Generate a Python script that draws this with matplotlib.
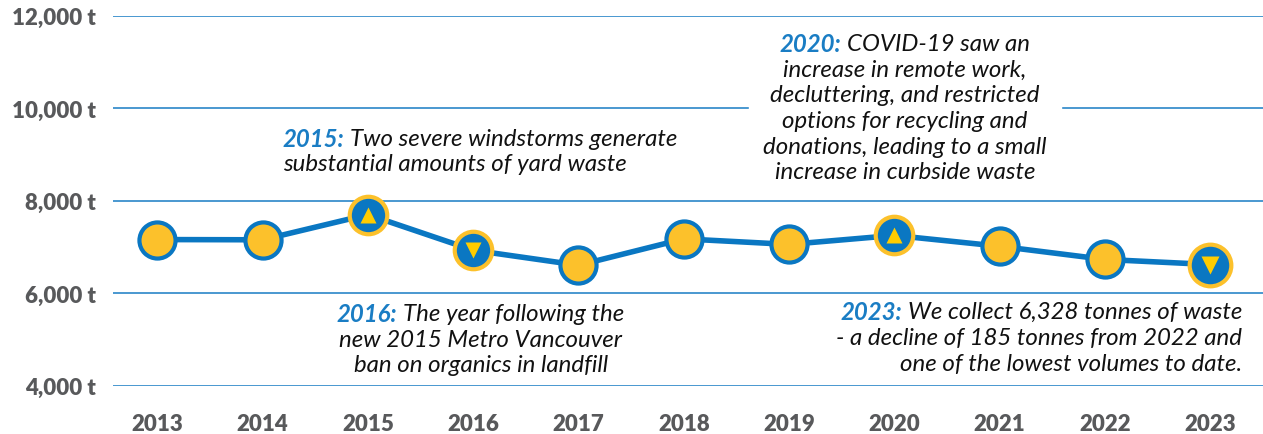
import matplotlib.pyplot as plt

# Data
years = [2013, 2014, 2015, 2016, 2017, 2018, 2019, 2020, 2021, 2022, 2023]
tonnes = [7160, 7155, 7700, 6930, 6605, 7175, 7055, 7250, 7015, 6730, 6620]
trend = ['', '', 'up', 'down', '', '', '', 'up', '', '', 'down']

y_ticks = [4000, 6000, 8000, 10000, 12000]
y_labels = ['4,000 t', '6,000 t', '8,000 t', '10,000 t', '12,000 t']

notes = [
    # (prefix, lines, anchor x, anchor y, align)
    ('2015:', ['Two severe windstorms generate', 'substantial amounts of yard waste'],
     2014.19, 9350, 'left'),
    ('2016:', ['The year following the', 'new 2015 Metro Vancouver', 'ban on organics in landfill'],
     2016.07, 5560, 'center'),
    ('2020:', ['COVID-19 saw an', 'increase in remote work,', 'decluttering, and restricted',
               'options for recycling and', 'donations, leading to a small',
               'increase in curbside waste'],
     2020.10, 11405, 'center'),
    ('2023:', ['We collect 6,328 tonnes of waste', '- a decline of 185 tonnes from 2022 and',
               'one of the lowest volumes to date.'],
     2023.30, 5600, 'right'),
]

blue = '#0a77c2'
yellow = '#fcc12b'
tri_yellow = '#ffcc00'
grey = '#58595b'

fig = plt.figure(figsize=(12.63, 4.35), dpi=100)
ax = fig.add_axes([0.0895, 0.111, 0.9105, 0.8506])
ax.set_xlim(2012.58, 2023.5)
ax.set_ylim(4000, 12000)

for t in y_ticks:
    ax.axhline(t, color='#2a86c8', lw=1.2, zorder=0)

ax.plot(years, tonnes, color=blue, lw=4, zorder=2, solid_capstyle='round')

# plain points
px = [x for x, tr in zip(years, trend) if tr == '']
py = [v for v, tr in zip(tonnes, trend) if tr == '']
ax.plot(px, py, 'o', ms=26, mfc=yellow, mec=blue, mew=3, zorder=3, ls='none')

# highlighted points
for x, v, tr in zip(years, tonnes, trend):
    if tr == '':
        continue
    big = x == years[-1]
    ax.plot(x, v, 'o', ms=30 if big else 27, mfc=blue, mec=yellow, mew=3, zorder=3)
    ax.plot(x, v, '^' if tr == 'up' else 'v', ms=13 if big else 11,
            color=tri_yellow, mec='none', zorder=4)

ax.set_yticks(y_ticks)
ax.set_yticklabels(y_labels)
ax.set_xticks(years)
ax.set_xticklabels([str(y) for y in years])
ax.tick_params(axis='y', length=0, pad=12, labelsize=16, labelcolor=grey)
ax.tick_params(axis='x', length=0, pad=20, labelsize=16, labelcolor=grey)
for lab in ax.get_xticklabels() + ax.get_yticklabels():
    lab.set_fontfamily('Lato')
    lab.set_fontweight('heavy')
for s in ax.spines.values():
    s.set_visible(False)

# Annotations with coloured year prefix
fig.canvas.draw()
renderer = fig.canvas.get_renderer()
fsize = 17.3
spacing = 25.7
style_pre = dict(fontfamily='Lato', fontstyle='italic', fontweight='bold', color='#1a7dc4', fontsize=fsize)
style_txt = dict(fontfamily='Lato', fontstyle='italic', color='#111111', fontsize=fsize)


def width_of(s, style):
    t = fig.text(0, 0, s, **style)
    w = t.get_window_extent(renderer).width
    t.remove()
    return w


for prefix, lines, ax_x, ax_y, align in notes:
    x0, y0 = ax.transData.transform((ax_x, ax_y))
    gap = width_of('a a', style_txt) - width_of('aa', style_txt)
    widths = []
    for i, line in enumerate(lines):
        w = width_of(line, style_txt)
        if i == 0:
            w += width_of(prefix, style_pre) + gap
        widths.append(w)
    if prefix == '2020:':
        maxw = max(widths)
        top = y0 + spacing * 0.6
        bot = y0 - spacing * (len(lines) - 0.4)
        rect = plt.Rectangle((x0 - maxw / 2 - 14, bot), maxw + 28, top - bot,
                             transform=None, color='white', zorder=5)
        fig.patches.append(rect)
    for i, line in enumerate(lines):
        y = y0 - i * spacing
        w = widths[i]
        if align == 'left':
            xs = x0
        elif align == 'center':
            xs = x0 - w / 2
        else:
            xs = x0 - w
        if i == 0:
            fig.text(xs, y, prefix, transform=None, va='center', ha='left', zorder=6, **style_pre)
            xs += width_of(prefix, style_pre) + gap
        fig.text(xs, y, line, transform=None, va='center', ha='left', zorder=6, **style_txt)

fig.savefig('out.png', dpi=100)
